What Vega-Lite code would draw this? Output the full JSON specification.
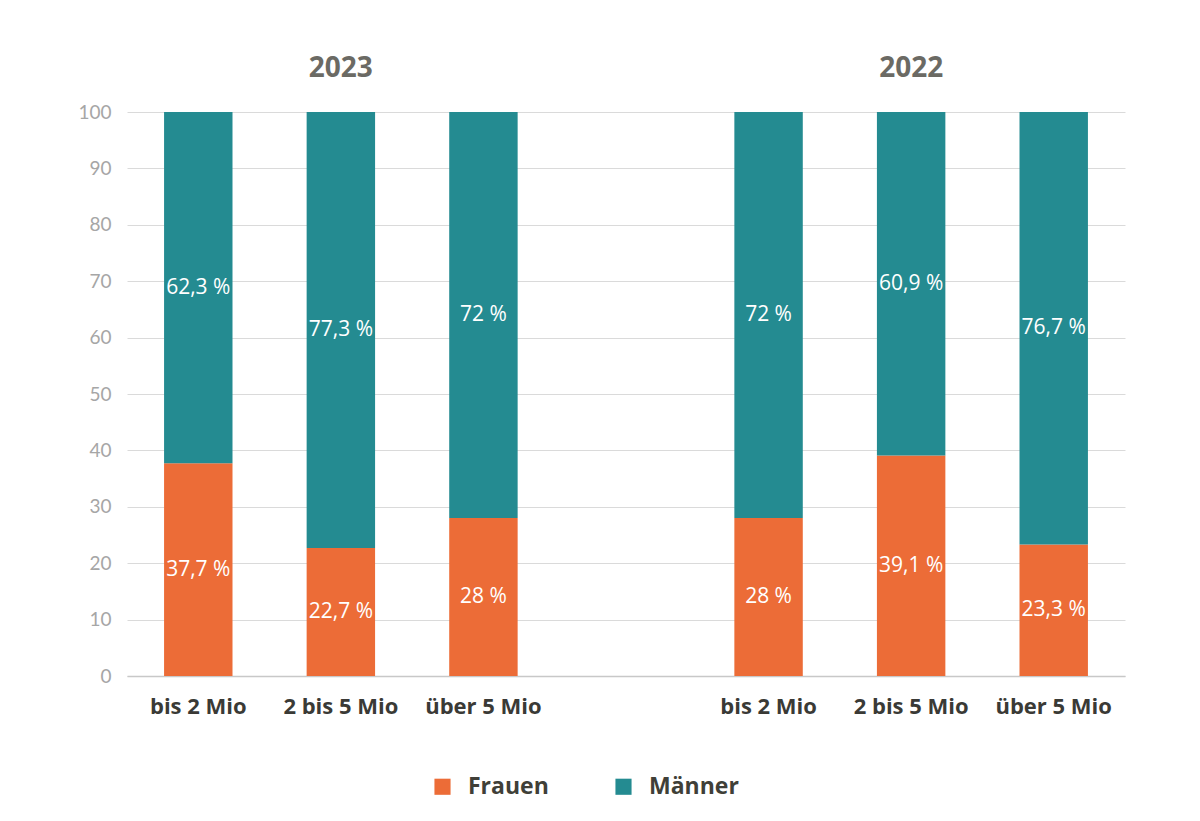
{
  "$schema": "https://vega.github.io/schema/vega-lite/v6.json",
  "autosize": "none",
  "width": 998,
  "height": 564,
  "padding": {"left": 127, "top": 112, "right": 75, "bottom": 145},
  "background": "white",
  "config": {
    "view": {"stroke": null},
    "font": "Open Sans"
  },
  "data": {
    "values": [
      {"key": "2023|bis 2 Mio", "year": "2023", "group": "bis 2 Mio", "sex": "Frauen", "value": 37.7, "label": "37,7 %"},
      {"key": "2023|bis 2 Mio", "year": "2023", "group": "bis 2 Mio", "sex": "Männer", "value": 62.3, "label": "62,3 %"},
      {"key": "2023|2 bis 5 Mio", "year": "2023", "group": "2 bis 5 Mio", "sex": "Frauen", "value": 22.7, "label": "22,7 %"},
      {"key": "2023|2 bis 5 Mio", "year": "2023", "group": "2 bis 5 Mio", "sex": "Männer", "value": 77.3, "label": "77,3 %"},
      {"key": "2023|über 5 Mio", "year": "2023", "group": "über 5 Mio", "sex": "Frauen", "value": 28, "label": "28 %"},
      {"key": "2023|über 5 Mio", "year": "2023", "group": "über 5 Mio", "sex": "Männer", "value": 72, "label": "72 %"},
      {"key": "2022|bis 2 Mio", "year": "2022", "group": "bis 2 Mio", "sex": "Frauen", "value": 28, "label": "28 %"},
      {"key": "2022|bis 2 Mio", "year": "2022", "group": "bis 2 Mio", "sex": "Männer", "value": 72, "label": "72 %"},
      {"key": "2022|2 bis 5 Mio", "year": "2022", "group": "2 bis 5 Mio", "sex": "Frauen", "value": 39.1, "label": "39,1 %"},
      {"key": "2022|2 bis 5 Mio", "year": "2022", "group": "2 bis 5 Mio", "sex": "Männer", "value": 60.9, "label": "60,9 %"},
      {"key": "2022|über 5 Mio", "year": "2022", "group": "über 5 Mio", "sex": "Frauen", "value": 23.3, "label": "23,3 %"},
      {"key": "2022|über 5 Mio", "year": "2022", "group": "über 5 Mio", "sex": "Männer", "value": 76.7, "label": "76,7 %"}
    ]
  },
  "transform": [
    {"stack": "value", "groupby": ["key"], "sort": [{"field": "sex", "order": "ascending"}], "as": ["v0", "v1"]},
    {"calculate": "(datum.v0 + datum.v1) / 2", "as": "mid"}
  ],
  "resolve": {"axis": {"x": "independent"}},
  "layer": [
    {
      "mark": {"type": "bar"},
      "encoding": {
        "x": {
          "field": "key",
          "type": "nominal",
          "scale": {
            "domain": ["2023|bis 2 Mio", "2023|2 bis 5 Mio", "2023|über 5 Mio", "gap", "2022|bis 2 Mio", "2022|2 bis 5 Mio", "2022|über 5 Mio"],
            "paddingInner": 0.52,
            "paddingOuter": 0.26
          },
          "axis": {
            "orient": "bottom",
            "title": null,
            "labelExpr": "datum.value == 'gap' ? '' : split(datum.value, '|')[1]",
            "labelAngle": 0,
            "labelFont": "Open Sans",
            "labelFontWeight": "bold",
            "labelFontSize": 22,
            "labelColor": "#3a3a36",
            "labelPadding": 20,
            "ticks": false,
            "domainColor": "#c8c8c8",
            "domainWidth": 1.5,
            "grid": false
          }
        },
        "y": {
          "field": "v0",
          "type": "quantitative",
          "scale": {"domain": [0, 100]},
          "axis": {
            "title": null,
            "values": [0, 10, 20, 30, 40, 50, 60, 70, 80, 90, 100],
            "labelFont": "Lato",
            "labelFontSize": 19,
            "labelColor": "#a6a6a6",
            "labelPadding": 16,
            "ticks": false,
            "domain": false,
            "gridColor": "#dadada",
            "gridWidth": 1
          }
        },
        "y2": {"field": "v1"},
        "color": {
          "field": "sex",
          "type": "nominal",
          "scale": {"domain": ["Frauen", "Männer"], "range": ["#ec6c37", "#248b91"]},
          "legend": {
            "title": null,
            "orient": "none",
            "legendX": 304,
            "legendY": 663,
            "direction": "horizontal",
            "symbolType": "square",
            "symbolSize": 260,
            "symbolOpacity": 1,
            "symbolStrokeWidth": 0,
            "labelFont": "Open Sans",
            "labelFontWeight": "bold",
            "labelFontSize": 23,
            "labelColor": "#403f38",
            "labelOffset": 14,
            "columnPadding": 63
          }
        }
      }
    },
    {
      "mark": {"type": "text", "color": "white", "fontSize": 21, "font": "Open Sans", "baseline": "middle"},
      "encoding": {
        "x": {
          "field": "key",
          "type": "nominal",
          "axis": {
            "orient": "top",
            "title": null,
            "labelExpr": "datum.value == '2023|2 bis 5 Mio' ? '2023' : (datum.value == '2022|2 bis 5 Mio' ? '2022' : '')",
            "labelAngle": 0,
            "labelFont": "Open Sans",
            "labelFontWeight": "bold",
            "labelFontSize": 28,
            "labelColor": "#6b6a64",
            "labelPadding": 30,
            "ticks": false,
            "domain": false,
            "grid": false
          }
        },
        "y": {"field": "mid", "type": "quantitative"},
        "text": {"field": "label"}
      }
    }
  ]
}
